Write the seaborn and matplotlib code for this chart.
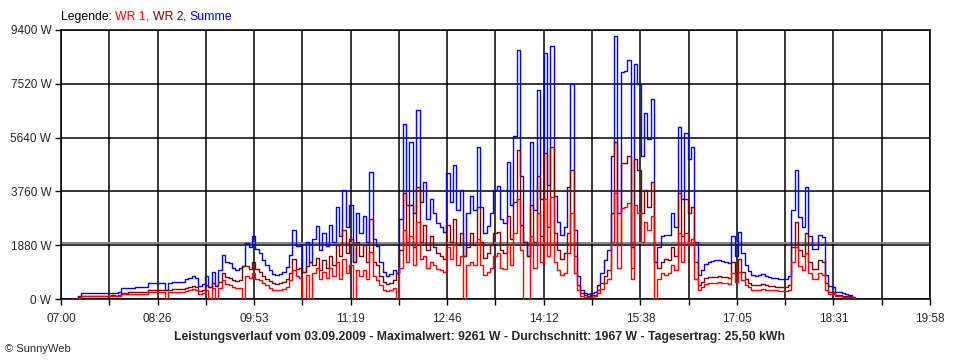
import matplotlib
matplotlib.use('Agg')
import matplotlib.pyplot as plt
import seaborn as sns
import numpy as np
import pandas as pd

# Leistungsverlauf 03.09.2009, Werte alle 3 Minuten ab 07:09 (in W)
start_min = 9
step_min = 3

wr2 = [0, 0, 60, 110, 115, 115, 120, 120, 115, 120,           # 07:09
       120, 120, 125, 120, 130, 220, 225, 230, 230, 235,     # 07:39
       235, 240, 240, 320, 320, 325, 325, 320, 300, 330,     # 08:09
       340, 340, 345, 350, 400, 430, 470, 420, 280, 330,     # 08:39
       500, 420, 560, 450, 600, 900, 760, 750, 680, 640,     # 09:09
       680, 1150, 1150, 1050, 1300, 1050, 950, 800, 700, 620,  # 09:39
       560, 540, 560, 600, 700, 900, 1400, 1050, 1100, 950,  # 10:09
       1150, 1300, 1200, 1450, 1000, 1350, 1100, 1500, 1200, 1900,  # 10:39
       1500, 2400, 1600, 2100, 1300, 2000, 1500, 1900, 1300, 2800,  # 11:09
       1300, 1200, 800, 600, 520, 560, 650, 900, 1700, 3700,  # 11:39
       2000, 3300, 1800, 3900, 2000, 2600, 1700, 2200, 1800, 1600,  # 12:09
       1500, 1400, 2600, 2000, 2800, 1900, 2300, 1500, 1800, 2300,  # 12:39
       1900, 3200, 2000, 1450, 1600, 1900, 2300, 2350, 1700, 1600,  # 13:09
       2900, 2100, 3400, 5200, 2600, 2000, 1500, 3300, 2000, 4300,  # 13:39
       2200, 5100, 2500, 5300, 2300, 1700, 1400, 1600, 2300, 4500,  # 14:09
       1500, 500, 200, 130, 120, 130, 150, 300, 560, 800,    # 14:39
       1000, 3000, 5500, 1900, 4750, 4750, 5000, 1100, 4900, 4500,  # 15:09
       3000, 3800, 3200, 4100, 1300, 1100, 1300, 1400, 1350, 1800,  # 15:39
       1500, 3700, 2200, 3500, 3000, 3200, 1300, 500, 600, 720,  # 16:09
       760, 770, 780, 800, 770, 760, 730, 1300, 900, 1400,   # 16:39
       950, 700, 560, 500, 480, 500, 520, 480, 450, 440,     # 17:09
       430, 420, 420, 420, 480, 1800, 2700, 1700, 1500, 2300,  # 17:39
       1300, 1050, 1050, 1350, 1300, 550, 260, 240, 150, 140,  # 18:09
       120, 110, 90, 40, 0]                                  # 18:39

wr1 = [0, 0, 40, 90, 95, 95, 95, 95, 95, 95,
       95, 100, 100, 100, 110, 160, 165, 170, 170, 175,
       175, 180, 180, 230, 230, 230, 235, 230, 0, 240,
       250, 250, 255, 255, 290, 320, 340, 310, 180, 200,
       300, 0, 380, 0, 400, 650, 520, 500, 420, 380,
       400, 0, 800, 750, 900, 700, 650, 560, 480, 380,
       320, 310, 320, 360, 420, 650, 1000, 800, 750, 0,
       850, 0, 900, 1100, 700, 950, 750, 1100, 800, 1300,
       700, 1400, 900, 1200, 0, 1000, 800, 1000, 700, 1650,
       800, 650, 500, 330, 280, 320, 380, 0, 1100, 2400,
       1300, 2200, 1200, 2700, 1400, 1500, 1100, 1300, 1200, 1050,
       1000, 950, 1800, 1400, 1900, 1200, 1500, 0, 1200, 1300,
       1200, 2100, 1200, 850, 950, 1100, 1500, 1600, 1100, 1050,
       1900, 1200, 2300, 3500, 1700, 0, 0, 2200, 1100, 3000,
       1300, 3500, 1500, 3550, 1300, 1000, 850, 900, 1600, 3000,
       900, 300, 120, 70, 60, 70, 100, 200, 350, 550,
       700, 2000, 3700, 1100, 3180, 3200, 3350, 700, 3300, 3000,
       2000, 2700, 2400, 2900, 0, 700, 900, 850, 900, 1200,
       1000, 2300, 1300, 2300, 1900, 2100, 700, 330, 420, 520,
       550, 560, 570, 580, 560, 550, 540, 900, 600, 950,
       650, 500, 430, 330, 320, 330, 350, 320, 310, 300,
       300, 290, 290, 290, 320, 1300, 1800, 1150, 1000, 1600,
       900, 700, 700, 900, 850, 300, 180, 170, 100, 90,
       80, 70, 60, 30, 0]

x_labels = ['07:00', '08:26', '09:53', '11:19', '12:46', '14:12', '15:38', '17:05', '18:31', '19:58']
y_ticks = [0, 1880, 3760, 5640, 7520, 9400]
day_minutes = 778  # 07:00 .. 19:58
average_w = 1967

assert len(wr1) == len(wr2)
minutes = start_min + step_min * np.arange(len(wr1))
df = pd.DataFrame({'t': minutes, 'WR 1': wr1, 'WR 2': wr2})
df['Summe'] = df['WR 1'] + df['WR 2']

sns.set_style('white')
plt.rcParams['font.family'] = ['Liberation Sans', 'DejaVu Sans']

fig = plt.figure(figsize=(9.6, 3.6), dpi=100)
ax = fig.add_axes([61 / 960, 61 / 360, 869 / 960, 269 / 360])

# Gitter
minor_x = np.linspace(0, day_minutes, 19)
for xv in minor_x:
    ax.axvline(xv, color='black', lw=1.1, zorder=1)
for yv in y_ticks:
    ax.axhline(yv, color='black', lw=1.1, zorder=1)
ax.axhline(average_w, color='#888888', lw=1.4, zorder=1.5)

sns.lineplot(data=df, x='t', y='Summe', color='#0000ff', lw=1.0, drawstyle='steps-post', estimator=None, ax=ax, zorder=2)
sns.lineplot(data=df, x='t', y='WR 2', color='#800000', lw=1.0, drawstyle='steps-post', estimator=None, ax=ax, zorder=3)
sns.lineplot(data=df, x='t', y='WR 1', color='#ff0000', lw=1.0, drawstyle='steps-post', estimator=None, ax=ax, zorder=4)

ax.set_xlim(0, day_minutes)
ax.set_ylim(0, 9400)
ax.set_xticks(np.linspace(0, day_minutes, 10))
ax.set_xticklabels(x_labels)
ax.set_xticks(minor_x, minor=True)
ax.set_yticks(y_ticks)
ax.set_yticklabels([f'{v} W' for v in y_ticks])
ax.tick_params(axis='both', which='both', direction='out', length=4, width=1, color='black', labelsize=8.5, pad=3)
ax.tick_params(axis='x', which='major', pad=6)
ax.xaxis.set_ticks_position('bottom')
ax.yaxis.set_ticks_position('left')
ax.set_xlabel('')
ax.set_ylabel('')
for sp in ax.spines.values():
    sp.set_color('black')
    sp.set_linewidth(1.1)

# Legende oben links, mehrfarbig
t0 = fig.text(61 / 960, 1 - 17 / 360, 'Legende: ', fontsize=8.8, color='black', va='center')
t1 = fig.text(0, 0, 'WR 1', fontsize=8.8, color='#ff0000', va='center')
t2 = fig.text(0, 0, ', ', fontsize=8.8, color='#ff0000', va='center')
t3 = fig.text(0, 0, 'WR 2', fontsize=8.8, color='#800000', va='center')
t4 = fig.text(0, 0, ', ', fontsize=8.8, color='#800000', va='center')
t5 = fig.text(0, 0, 'Summe', fontsize=8.8, color='#0000ff', va='center')
r = fig.canvas.get_renderer()
prev = t0
for t in [t1, t2, t3, t4, t5]:
    bb = prev.get_window_extent(r).transformed(fig.transFigure.inverted())
    t.set_position((bb.x1, 1 - 17 / 360))
    prev = t

fig.text(479 / 960, 1 - 337 / 360,
         'Leistungsverlauf vom 03.09.2009 - Maximalwert: 9261 W - Durchschnitt: 1967 W - Tagesertrag: 25,50 kWh',
         fontsize=8.8, fontweight='bold', ha='center', va='center')
fig.text(5 / 960, 1 - 349 / 360, '© SunnyWeb', fontsize=8, va='center')

plt.savefig('out.png', dpi=100)
